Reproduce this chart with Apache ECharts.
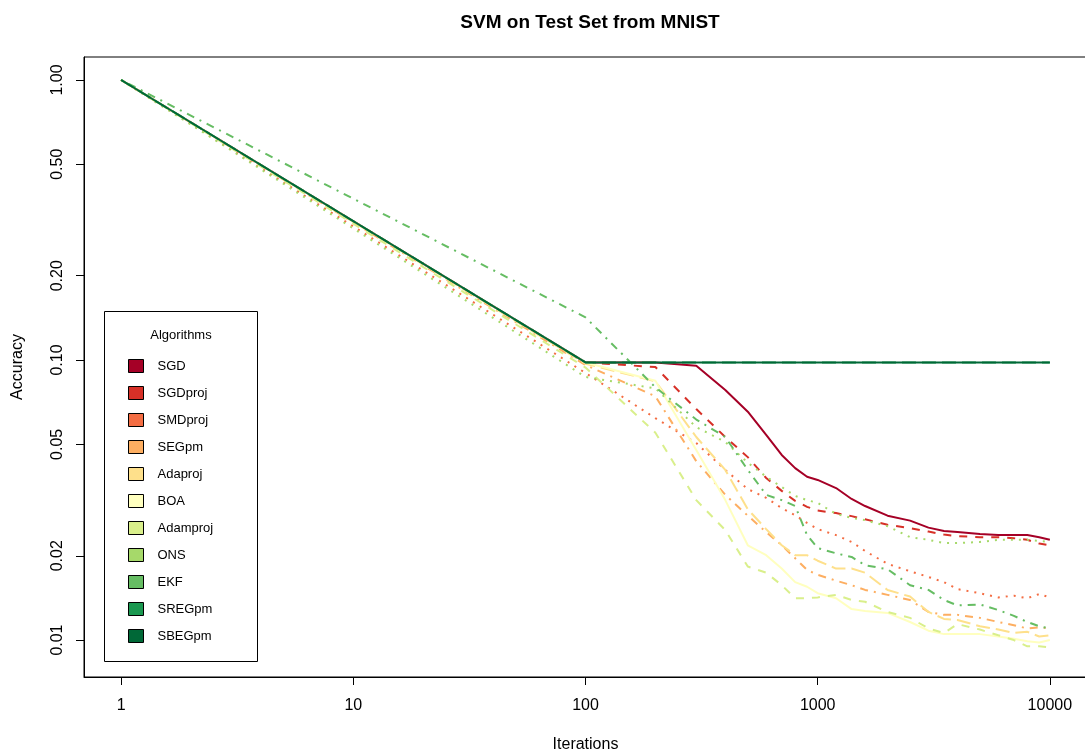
<!DOCTYPE html>
<html>
<head>
<meta charset="utf-8">
<script src="https://cdn.jsdelivr.net/npm/echarts@6/dist/echarts.min.js"></script>
<style>
  html, body { margin: 0; padding: 0; background: #fff; }
  #chart { width: 1085px; height: 753px; }
</style>
</head>
<body>
<div id="chart"></div>
<script>
// iterations (x)
var iterations = [1, 100, 200, 300, 400, 500, 600, 700, 800, 900, 1000, 1200, 1400, 1600, 2000, 2500, 3000, 3500, 4000, 5000, 6000, 7000, 8000, 9000, 10000];

var sgd      = [1, 0.098, 0.098, 0.0954, 0.0781, 0.0654, 0.054, 0.0458, 0.0411, 0.0383, 0.0373, 0.0349, 0.0319, 0.0301, 0.0278, 0.0267, 0.0252, 0.0245, 0.0243, 0.0239, 0.0237, 0.0237, 0.0237, 0.0233, 0.0228];
var sgdProj  = [1, 0.098, 0.0944, 0.0668, 0.0531, 0.045, 0.0379, 0.0341, 0.0314, 0.0299, 0.029, 0.0284, 0.0277, 0.027, 0.0258, 0.0251, 0.0244, 0.0238, 0.0235, 0.0233, 0.0233, 0.0231, 0.0228, 0.0221, 0.0218];
var smdProj  = [1, 0.0899, 0.062, 0.0505, 0.0405, 0.0346, 0.0322, 0.0296, 0.0279, 0.0262, 0.0249, 0.0237, 0.0224, 0.0208, 0.0187, 0.0176, 0.0168, 0.0161, 0.0152, 0.0147, 0.0142, 0.0144, 0.0141, 0.0146, 0.0142];
var segPm    = [1, 0.096, 0.0742, 0.0435, 0.033, 0.0278, 0.0243, 0.0218, 0.0196, 0.0178, 0.0171, 0.0163, 0.0157, 0.0151, 0.0145, 0.0139, 0.0126, 0.0123, 0.0123, 0.012, 0.0116, 0.0113, 0.011, 0.0111, 0.011];
var adaProj  = [1, 0.097, 0.084, 0.0531, 0.0405, 0.0293, 0.0249, 0.0218, 0.0201, 0.0201, 0.0192, 0.018, 0.018, 0.0174, 0.0151, 0.0143, 0.0126, 0.0119, 0.0118, 0.0112, 0.0109, 0.0106, 0.0107, 0.0103, 0.0104];
var boa      = [1, 0.098, 0.0843, 0.0477, 0.0316, 0.0218, 0.0201, 0.018, 0.0161, 0.0155, 0.0147, 0.0141, 0.0129, 0.0127, 0.0125, 0.0116, 0.0108, 0.0105, 0.0105, 0.0105, 0.0103, 0.0101, 0.0099, 0.0098, 0.01];
var adamProj = [1, 0.094, 0.055, 0.0316, 0.0247, 0.0183, 0.0174, 0.0157, 0.0141, 0.0141, 0.0142, 0.0145, 0.0139, 0.0137, 0.0126, 0.012, 0.011, 0.0106, 0.0114, 0.0109, 0.0104, 0.01, 0.0095, 0.0095, 0.0094];
var ons      = [1, 0.087, 0.0792, 0.0576, 0.051, 0.043, 0.0383, 0.0352, 0.0327, 0.0316, 0.0309, 0.0282, 0.0273, 0.0268, 0.0255, 0.0233, 0.0228, 0.0222, 0.0222, 0.0224, 0.0228, 0.0228, 0.0228, 0.0226, 0.0224];
var ekf      = [1, 0.142, 0.0799, 0.0613, 0.0531, 0.0405, 0.033, 0.0316, 0.0301, 0.0237, 0.0213, 0.0204, 0.0198, 0.0185, 0.0179, 0.0157, 0.0151, 0.0139, 0.0133, 0.0134, 0.0128, 0.0122, 0.0116, 0.0112, 0.011];
var sregPm   = [1, 0.098, 0.098, 0.098, 0.098, 0.098, 0.098, 0.098, 0.098, 0.098, 0.098, 0.098, 0.098, 0.098, 0.098, 0.098, 0.098, 0.098, 0.098, 0.098, 0.098, 0.098, 0.098, 0.098, 0.098];
var sbegPm   = [1, 0.098, 0.098, 0.098, 0.098, 0.098, 0.098, 0.098, 0.098, 0.098, 0.098, 0.098, 0.098, 0.098, 0.098, 0.098, 0.098, 0.098, 0.098, 0.098, 0.098, 0.098, 0.098, 0.098, 0.098];

var algoNames = ['SGD', 'SGDproj', 'SMDproj', 'SEGpm', 'Adaproj', 'BOA', 'Adamproj', 'ONS', 'EKF', 'SREGpm', 'SBEGpm'];
var algoValues = [sgd, sgdProj, smdProj, segPm, adaProj, boa, adamProj, ons, ekf, sregPm, sbegPm];
var algoColors = ['#A50026', '#D73027', '#F46D43', '#FDAE61', '#FEE08B', '#FFFFBF', '#D9EF8B', '#A6D96A', '#66BD63', '#1A9850', '#006837'];

var xTicks = [1, 10, 100, 1000, 10000];
var yTicks = [0.01, 0.02, 0.05, 0.1, 0.2, 0.5, 1];

// R line types 1..5, recycled: solid, dashed, dotted, dotdash, longdash
var ltys = ['solid', [8, 8], [2, 6], [2, 6, 8, 6], [14, 6]];

var FONT = '"Liberation Sans", Arial, Helvetica, sans-serif';

var chart = echarts.init(document.getElementById('chart'));

var series = [];
for (var i = 0; i < algoNames.length; i++) {
    var pts = [];
    for (var j = 0; j < iterations.length; j++) {
        pts.push([iterations[j], algoValues[i][j]]);
    }
    series.push({
        name: algoNames[i],
        type: 'line',
        symbol: 'none',
        color: algoColors[i],
        itemStyle: { color: algoColors[i] },
        lineStyle: { color: algoColors[i], width: 2, type: ltys[i % 5] },
        data: pts
    });
}

var option = {
    animation: false,
    backgroundColor: '#fff',
    title: {
        text: 'SVM on Test Set from MNIST',
        left: 585,
        top: 8,
        textAlign: 'center',
        textStyle: { fontFamily: FONT, fontSize: 19, fontWeight: 'bold', color: '#000' }
    },
    grid: {
        // right border lies past the canvas edge, as in the original
        left: 84,
        top: 57,
        width: 1003,
        height: 620,
        outerBoundsMode: 'none',
        show: true,
        borderColor: '#000',
        borderWidth: 1
    },
    legend: {
        orient: 'vertical',
        left: 123,
        top: 354,
        icon: 'rect',
        itemWidth: 15,
        itemHeight: 13,
        itemGap: 13,
        data: algoNames,
        itemStyle: { borderColor: '#000', borderWidth: 1 },
        textStyle: { fontFamily: FONT, fontSize: 13, color: '#000', lineHeight: 13, padding: [0, 0, 0, 9] },
        selectedMode: false
    },
    graphic: [
        {
            type: 'rect',
            z: 3,
            shape: { x: 104.5, y: 311.5, width: 153, height: 350 },
            style: { fill: '#fff', stroke: '#000', lineWidth: 1 }
        },
        {
            type: 'text',
            z: 4,
            x: 181,
            y: 335,
            style: { text: 'Algorithms', fontFamily: FONT, fontSize: 13, fill: '#000', align: 'center', verticalAlign: 'middle' }
        }
    ],
    xAxis: {
        type: 'log',
        min: 0.6918,
        max: 14454,
        name: 'Iterations',
        nameLocation: 'middle',
        nameGap: 60,
        nameTextStyle: { fontFamily: FONT, fontSize: 16, color: '#000' },
        axisLine: { show: true, onZero: false, lineStyle: { color: '#000', width: 1 } },
        axisTick: { show: true, length: 8, customValues: xTicks, lineStyle: { color: '#000' } },
        axisLabel: {
            customValues: xTicks,
            margin: 21,
            fontFamily: FONT, fontSize: 16, color: '#000',
            formatter: function (v) { return String(Math.round(v)); }
        },
        splitLine: { show: false }
    },
    yAxis: {
        type: 'log',
        min: 0.00738,
        max: 1.208,
        name: 'Accuracy',
        nameLocation: 'middle',
        nameGap: 58,
        nameTextStyle: { fontFamily: FONT, fontSize: 16, color: '#000' },
        axisLine: { show: true, onZero: false, lineStyle: { color: '#000', width: 1 } },
        axisTick: { show: true, length: 8, customValues: yTicks, lineStyle: { color: '#000' } },
        axisLabel: {
            customValues: yTicks,
            rotate: 90,
            margin: 18,
            fontFamily: FONT, fontSize: 16, color: '#000',
            formatter: function (v) { return Number(v).toFixed(2); }
        },
        splitLine: { show: false }
    },
    series: series
};

chart.setOption(option);
</script>
</body>
</html>
